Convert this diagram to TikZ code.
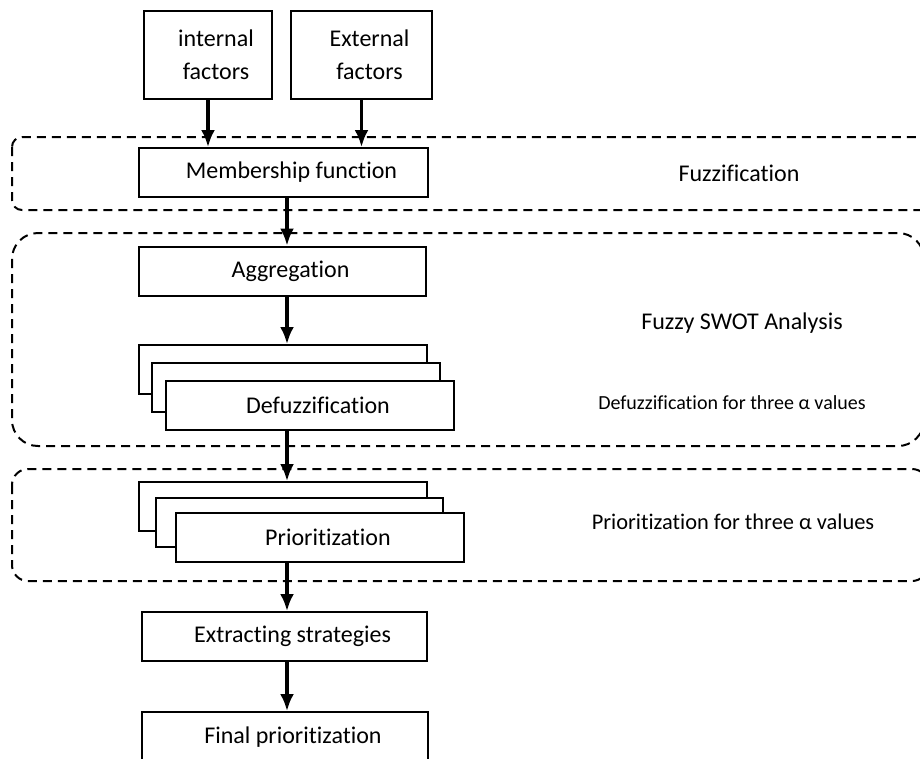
\documentclass[tikz,border=0pt]{standalone}
\usepackage{fontspec}
\setmainfont{Carlito}[Ligatures={NoCommon}]
\usetikzlibrary{arrows.meta,calc}
\newcommand\pad{\hspace*{16pt}}

\begin{document}
\begin{tikzpicture}[x=1pt,y=-1pt,
    box/.style={draw,line width=2pt,fill=white,minimum width=288pt,minimum height=49pt,inner sep=0pt,
      font=\fontsize{24}{33}\selectfont},
    region/.style={draw,line width=2pt,dash pattern=on 9pt off 6pt},
    tag/.style={font=\fontsize{24}{28}\selectfont},
    flow/.style={line width=3.2pt,-{Latex[length=17pt,width=14pt]}}]
  \useasboundingbox (0,0) rectangle (920,758);
  % dashed stages
  \draw[region,rounded corners=10pt] (12,137) rectangle (935,210);
  \draw[region,rounded corners=26pt] (12,233) rectangle (924,446);
  \draw[region,rounded corners=16pt] (12,469) rectangle (928,581);
  % inputs
  \node (int) [box,minimum width=128pt,minimum height=88pt,align=center] at (208,55) {\pad internal\\\pad factors};
  \node (ext) [box,minimum width=141pt,minimum height=88pt,align=center] at (361.5,55) {\pad External\\\pad factors};
  % main chain
  \node (mem) [box,minimum width=289pt] at (283.5,172.5) {\pad Membership function};
  \node (agg) [box,minimum width=287pt] at (282.5,271) {\pad Aggregation};
  \node (defuzA) [box] at (283,369.5) {};
  \node (defuzB) [box] at (295.5,387.5) {};
  \node (defuz) [box] at (310,405.5) {\pad Defuzzification};
  \node (priorA) [box] at (283,506.5) {};
  \node (priorB) [box,minimum width=287pt] at (299.5,522.5) {};
  \node (prior) [box] at (320,537.5) {\pad Prioritization};
  \node (extr) [box,minimum width=285pt] at (284.5,636.5) {\pad Extracting strategies};
  \node (final) [box,minimum width=286pt,minimum height=50pt] at (285,737) {\pad Final prioritization};
  % stage labels
  \node (lfuzz) [tag] at (739,173) {Fuzzification};
  \node (lswot) [tag] at (742,323) {Fuzzy SWOT Analysis};
  \node (ldefuz) [tag,font=\fontsize{20}{24}\selectfont] at (732,403) {Defuzzification for three α values};
  \node (lprior) [tag,font=\fontsize{22.4}{26}\selectfont] at (733,522) {Prioritization for three α values};
  % arrows
  \coordinate (axis) at (287,0);
  \draw[flow] (int.south) -- (int.south |- mem.north);
  \draw[flow] (ext.south) -- (ext.south |- mem.north);
  \draw[flow] (axis |- mem.south) -- (axis |- agg.north);
  \draw[flow] (axis |- agg.south) -- (axis |- defuzA.north);
  \draw[flow] (axis |- defuz.south) -- (axis |- priorA.north);
  \draw[flow] (axis |- prior.south) -- (axis |- extr.north);
  \draw[flow] (axis |- extr.south) -- (axis |- final.north);
\end{tikzpicture}
\end{document}
